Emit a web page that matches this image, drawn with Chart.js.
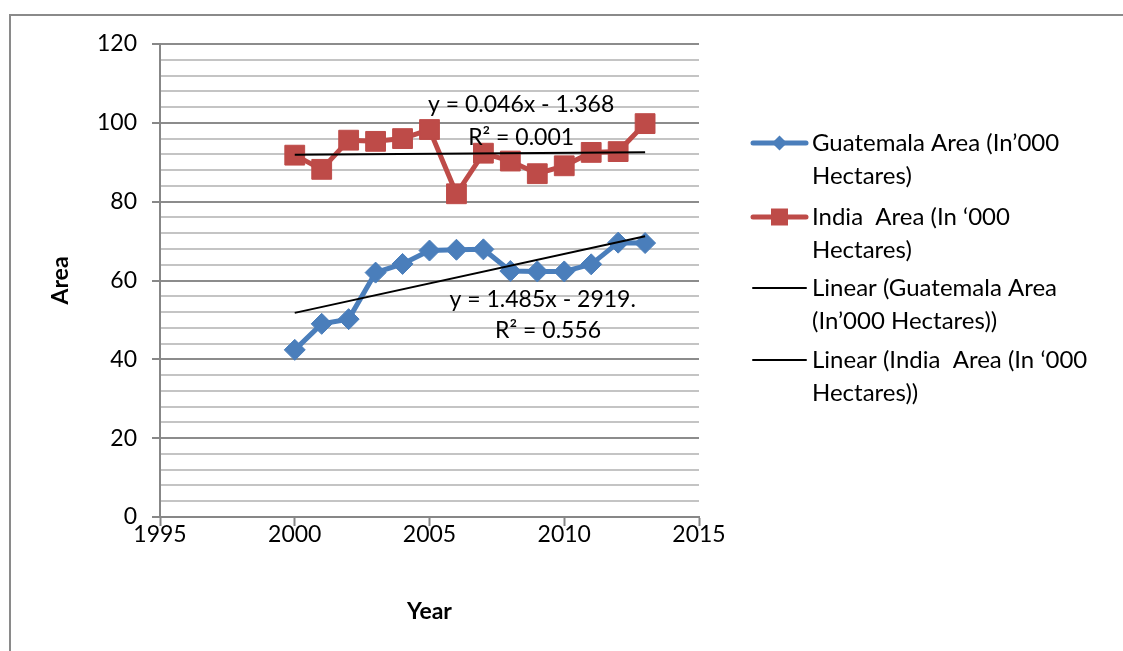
<!DOCTYPE html>
<html>
<head>
<meta charset="utf-8">
<script src="https://cdn.jsdelivr.net/npm/chart.js@4.4.1/dist/chart.umd.min.js"></script>
<style>
  html, body { margin: 0; padding: 0; background: #ffffff; }
  #wrap { width: 1123px; height: 651px; position: relative; }
</style>
</head>
<body>
<div id="wrap"><canvas id="chart" width="1123" height="651"></canvas></div>
<script>
// Harvested area by year, in thousand hectares
const years = [2000, 2001, 2002, 2003, 2004, 2005, 2006, 2007, 2008, 2009, 2010, 2011, 2012, 2013];
const guatemalaArea = [42.4, 49.0, 50.2, 62.0, 64.2, 67.6, 67.8, 67.9, 62.4, 62.3, 62.3, 64.1, 69.6, 69.5];
const indiaArea = [91.8, 88.2, 95.6, 95.3, 96.0, 98.3, 82.0, 92.3, 90.3, 87.1, 89.1, 92.5, 92.7, 99.8];

const seriesNames = ['Guatemala Area (In\u2019000 Hectares)', 'India  Area (In \u2018000 Hectares)'];
const trendNames = ['Linear (Guatemala Area (In\u2019000 Hectares))', 'Linear (India  Area (In \u2018000 Hectares))'];
const legendLines = [
  ['Guatemala Area (In\u2019000', 'Hectares)'],
  ['India  Area (In \u2018000', 'Hectares)'],
  ['Linear (Guatemala Area', '(In\u2019000 Hectares))'],
  ['Linear (India  Area (In \u2018000', 'Hectares))']
];
const guatemalaEquation = ['y = 1.485x - 2919.', 'R\u00b2 = 0.556'];
const indiaEquation = ['y = 0.046x - 1.368', 'R\u00b2 = 0.001'];

const FONT = 'Lato, "Open Sans", sans-serif';
const BLUE = '#4a7ebb';
const RED = '#be4b48';
const AXIS_GREY = '#878787';

// Least-squares straight line through a series, returned as its two end points
function linearTrend(xs, ys) {
  const n = xs.length;
  const mx = xs.reduce((a, b) => a + b, 0) / n;
  const my = ys.reduce((a, b) => a + b, 0) / n;
  let sxy = 0, sxx = 0;
  for (let i = 0; i < n; i++) {
    sxy += (xs[i] - mx) * (ys[i] - my);
    sxx += (xs[i] - mx) * (xs[i] - mx);
  }
  const slope = sxy / sxx;
  const icpt = my - slope * mx;
  return [xs[0], xs[n - 1]].map(x => ({ x: x, y: icpt + slope * x }));
}

const toPoints = (xs, ys) => xs.map((x, i) => ({ x: x, y: ys[i] }));

// Outer frame of the chart object
const framePlugin = {
  id: 'frame',
  afterDraw(chart) {
    const ctx = chart.ctx;
    ctx.save();
    ctx.strokeStyle = '#8a8a8a';
    ctx.lineWidth = 2;
    ctx.beginPath();
    ctx.moveTo(10, 651);
    ctx.lineTo(10, 15);
    ctx.lineTo(1123, 15);
    ctx.stroke();
    ctx.restore();
  }
};

// Legend on the right, with two-line wrapped entries
const legendPlugin = {
  id: 'sideLegend',
  afterDraw(chart) {
    const ctx = chart.ctx;
    const x0 = 753, x1 = 806, tx = 812;
    const rows = [143, 217, 288, 360];
    const lineGap = 33;
    ctx.save();
    chart.data.datasets.forEach((ds, i) => {
      const y = rows[i];
      ctx.strokeStyle = ds.borderColor;
      ctx.lineWidth = ds.borderWidth;
      ctx.lineCap = 'round';
      ctx.beginPath();
      ctx.moveTo(x0, y);
      ctx.lineTo(x1, y);
      ctx.stroke();
      if (ds.pointRadius > 0) {
        const cx = (x0 + x1) / 2;
        ctx.fillStyle = ds.pointBackgroundColor;
        ctx.beginPath();
        if (ds.pointStyle === 'rectRot') {
          const r = 7.5;
          ctx.moveTo(cx - r, y); ctx.lineTo(cx, y - r); ctx.lineTo(cx + r, y); ctx.lineTo(cx, y + r);
          ctx.closePath();
        } else {
          const h = 8.5;
          ctx.rect(cx - h, y - h, 2 * h, 2 * h);
        }
        ctx.fill();
      }
      ctx.fillStyle = '#000';
      ctx.font = '24px ' + FONT;
      ctx.textAlign = 'left';
      ctx.textBaseline = 'middle';
      legendLines[i].forEach((t, k) => ctx.fillText(t, tx, y + k * lineGap));
    });
    ctx.restore();
  }
};

// Trendline equations, placed in data coordinates
const equationPlugin = {
  id: 'equations',
  afterDatasetsDraw(chart) {
    const ctx = chart.ctx;
    const xs = chart.scales.x, ys = chart.scales.y;
    const put = (t, xv, yv) => ctx.fillText(t, xs.getPixelForValue(xv), ys.getPixelForValue(yv));
    ctx.save();
    ctx.fillStyle = '#000';
    ctx.font = '23px ' + FONT;
    ctx.textAlign = 'center';
    ctx.textBaseline = 'middle';
    put(indiaEquation[0], 2008.4, 104.6);
    put(indiaEquation[1], 2008.4, 96.2);
    put(guatemalaEquation[0], 2009.2, 55.2);
    put(guatemalaEquation[1], 2009.4, 47.4);
    ctx.restore();
  }
};

new Chart(document.getElementById('chart'), {
  type: 'line',
  data: {
    datasets: [
      {
        label: seriesNames[0],
        data: toPoints(years, guatemalaArea),
        borderColor: BLUE,
        backgroundColor: BLUE,
        pointBackgroundColor: BLUE,
        pointBorderColor: BLUE,
        borderWidth: 5,
        pointStyle: 'rectRot',
        pointRadius: 10.5,
        pointBorderWidth: 1,
        order: 1
      },
      {
        label: seriesNames[1],
        data: toPoints(years, indiaArea),
        borderColor: RED,
        backgroundColor: RED,
        pointBackgroundColor: RED,
        pointBorderColor: RED,
        borderWidth: 5,
        pointStyle: 'rect',
        pointRadius: 14,
        pointBorderWidth: 1,
        order: 1
      },
      {
        label: trendNames[0],
        data: linearTrend(years, guatemalaArea),
        borderColor: '#000',
        borderWidth: 2,
        pointRadius: 0,
        order: 0
      },
      {
        label: trendNames[1],
        data: linearTrend(years, indiaArea),
        borderColor: '#000',
        borderWidth: 2,
        pointRadius: 0,
        order: 0
      }
    ]
  },
  options: {
    responsive: false,
    animation: false,
    events: [],
    layout: { padding: { left: 40, top: 44, right: 424, bottom: 24 } },
    plugins: {
      legend: { display: false },
      tooltip: { enabled: false }
    },
    scales: {
      x: {
        type: 'linear',
        min: 1995,
        max: 2015,
        afterFit: s => { s.height = 110; },
        ticks: {
          stepSize: 5,
          color: '#000',
          font: { family: FONT, size: 23 },
          padding: -5,
          maxRotation: 0,
          callback: v => String(v)
        },
        grid: {
          drawOnChartArea: false,
          tickLength: 9,
          tickColor: AXIS_GREY,
          tickWidth: 2
        },
        border: { color: AXIS_GREY, width: 2 },
        title: {
          display: true,
          text: 'Year',
          color: '#000',
          font: { family: FONT, size: 23, weight: 'bold' },
          padding: { top: 0, bottom: 2 }
        }
      },
      y: {
        min: 0,
        max: 120,
        afterFit: s => { s.width = 120; },
        ticks: {
          stepSize: 4,
          autoSkip: false,
          color: '#000',
          font: { family: FONT, size: 23 },
          padding: 15,
          callback: v => (v % 20 === 0 ? String(v) : '')
        },
        grid: {
          color: c => (c.tick && c.tick.value % 20 === 0 ? '#8c8c8c' : '#c4c4c4'),
          lineWidth: 2,
          tickLength: 8,
          tickWidth: 2,
          tickColor: c => (c.tick && c.tick.value % 20 === 0 ? AXIS_GREY : 'rgba(0,0,0,0)')
        },
        border: { color: AXIS_GREY, width: 2 },
        title: {
          display: true,
          text: 'Area',
          color: '#000',
          font: { family: FONT, size: 23, weight: 'bold' },
          padding: { top: 7, bottom: 0 }
        }
      }
    }
  },
  plugins: [framePlugin, legendPlugin, equationPlugin]
});
</script>
</body>
</html>
